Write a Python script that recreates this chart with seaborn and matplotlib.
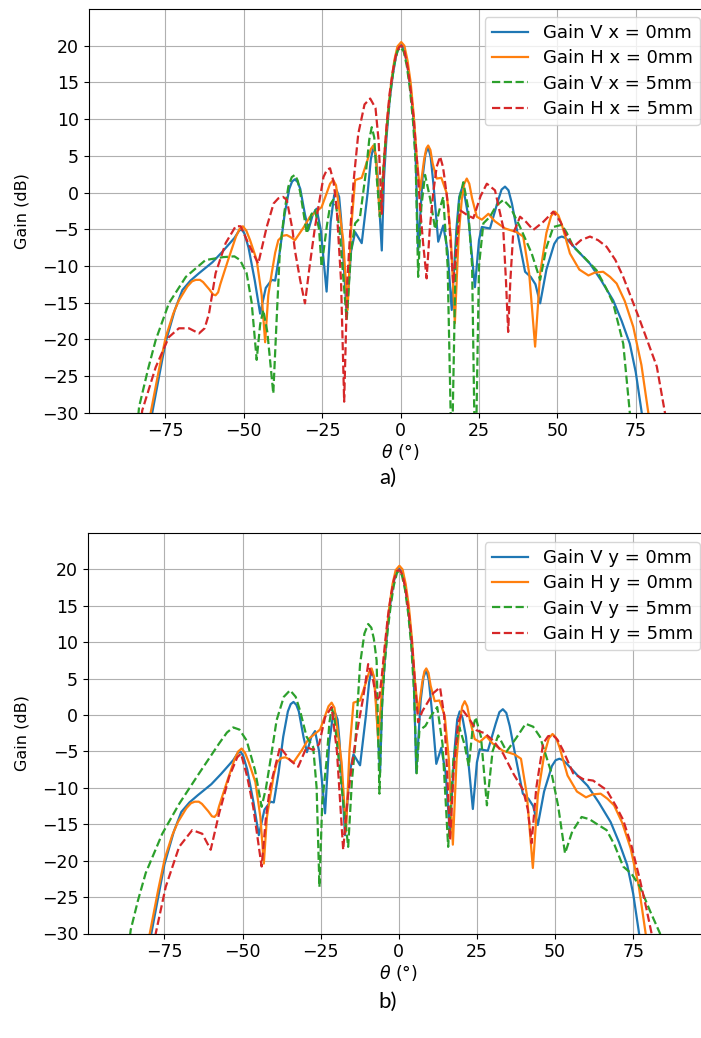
import numpy as np
import pandas as pd
import seaborn as sns
import matplotlib
matplotlib.use("Agg")
import matplotlib.pyplot as plt

# (theta in deg, gain in dB)
# the 0mm curves are the same in both panels
gain_v_0mm = [(-80.5, -32), (-79.2, -30), (-77, -25), (-75, -20.5), (-72, -16), (-69.6, -13.3),
              (-67, -12), (-64.3, -11.0), (-60, -9.5), (-56.9, -8.1), (-53, -6.2), (-51.5, -5.2),
              (-50.7, -5.0), (-49.8, -5.6), (-48.5, -7.5), (-46.5, -12), (-44.8, -16.5), (-43, -13),
              (-41.1, -11.9), (-40, -12), (-38.5, -8), (-37, -3), (-35.5, 0.5), (-34.6, 1.5),
              (-33.7, 1.8), (-32.8, 1.4), (-32, 0.5), (-30.5, -3), (-29.4, -5.1), (-28, -3),
              (-26.8, -2.2), (-25.5, -5), (-23.6, -13.5), (-22.3, -4), (-21.2, -0.4), (-20.4, 0.3),
              (-19.6, -0.6), (-19, -3.5), (-17.2, -16.5), (-15.8, -8), (-14.5, -5.4), (-12.4, -6.9),
              (-10.5, 0), (-9.5, 4.5), (-8.7, 6.2), (-7.9, 5), (-7.3, 2), (-6.0, -7.9), (-5.3, 2),
              (-4.5, 7.5), (-3.5, 12.5), (-2.5, 16), (-1.5, 18.5), (-0.5, 19.9), (0.2, 20.1),
              (1, 19.6), (2, 17.8), (3, 14.8), (4, 10.5), (4.8, 5), (5.6, -7.9), (7, 2), (7.9, 5.2),
              (8.8, 6.2), (9.6, 4.8), (10.5, 1), (12, -6.7), (13.6, -4.5), (15, -8), (16.3, -16.0),
              (17.8, -5), (18.7, -0.6), (19.5, 0.5), (20.4, -0.4), (21.5, -3), (23.7, -12.9),
              (25, -6.5), (25.9, -4.7), (28.5, -4.9), (31, -1.2), (32.2, 0.4), (33.3, 0.8),
              (34.4, 0.3), (35.5, -1.5), (37.5, -6), (39.7, -10.8), (41.5, -11.5), (43, -12.5),
              (44.5, -15.1), (46.5, -10.5), (49, -7), (50.2, -6.2), (51.4, -6.0), (52.6, -6.2),
              (54, -6.8), (57, -8.2), (60.4, -9.7), (64, -12), (67.8, -14.7), (70.5, -17.5),
              (73.1, -20.6), (75, -24.5), (76.9, -30), (77.5, -32)]

gain_h_0mm = [(-80.5, -32), (-79.7, -30), (-77, -24), (-74.9, -19.7), (-72.5, -16.5), (-70.7, -14.7),
              (-68, -12.8), (-66.5, -12.1), (-65.3, -11.9), (-64, -11.9), (-63, -12.2), (-61, -13.2),
              (-59.8, -13.9), (-59, -14.0), (-58.2, -13.6), (-57.5, -12.5), (-56, -10.5), (-54.7, -8.8),
              (-52.5, -6.0), (-51.4, -5.0), (-50.3, -4.6), (-49.2, -5.2), (-48, -6.5), (-45.9, -9.2),
              (-44.3, -14), (-43.2, -20.4), (-42.2, -14), (-41.1, -11.0), (-40, -8.2), (-39, -6.5),
              (-37.6, -5.9), (-36.3, -5.8), (-35, -6.1), (-33.7, -6.5), (-31, -4.8), (-28.9, -3.3),
              (-25.2, -2.0), (-23.5, 0), (-22.5, 1.2), (-21.5, 1.7), (-20.6, 1.0), (-19.8, -1.5),
              (-18.3, -6.5), (-16.9, -16), (-15.8, -5), (-14.5, 1.7), (-12.4, 2.0), (-10.5, 4.5),
              (-9.5, 5.9), (-8.7, 6.4), (-7.9, 5.2), (-7.5, 2.5), (-6.6, -3.3), (-5.8, 1), (-5, 6),
              (-4, 11), (-3, 15), (-2, 18), (-1, 19.9), (0.2, 20.5), (1.2, 20), (2.2, 18), (3.2, 15),
              (4.2, 10.5), (5.2, 4.5), (6.2, 0.3), (7.5, 4.5), (8.2, 6.0), (8.8, 6.4), (9.5, 5.8),
              (10.2, 4), (11.5, 1.9), (13, 2.0), (14.7, -0.1), (16, -6), (17.3, -17.8), (18.5, -6),
              (19.5, -1), (20.3, 1.2), (21.1, 1.9), (21.9, 1.2), (22.8, -0.8), (24.3, -3.3),
              (25.9, -3.7), (28, -2.9), (30, -3.9), (33.3, -4.9), (37, -5.4), (39.1, -6.0),
              (41, -11), (42.9, -21.0), (44.5, -11), (46.5, -5.5), (48, -3.2), (49.2, -2.6),
              (50.3, -3.1), (51.5, -4.5), (54, -8.3), (57, -10.5), (59.9, -11.3), (62, -10.9),
              (64.6, -10.8), (66.8, -11.5), (68.9, -12.4), (71.5, -14.8), (74.2, -18.3),
              (76.8, -23.5), (79, -30), (79.5, -32)]

gain_v_x5mm = [(-84, -32), (-83.4, -29.2), (-80.5, -24), (-78.1, -20.1), (-73.9, -15.1), (-68.5, -11.5),
               (-62.2, -9.2), (-56.5, -8.8), (-53, -8.7), (-51.2, -9.2), (-49.1, -11.0), (-47.5, -15),
               (-45.9, -22.8), (-44.8, -18), (-43.8, -16.0), (-42.5, -19), (-40.6, -27.4), (-39.5, -17),
               (-38.5, -7.9), (-37, -2.5), (-35.8, 0.8), (-34.7, 2.1), (-33.7, 2.4), (-32.8, 1.6),
               (-32, 0), (-29.9, -5.6), (-28.5, -3), (-27.3, -2.4), (-26, -5), (-25.2, -10.1),
               (-23.5, -4.5), (-22.4, -1.6), (-21.5, -1.0), (-20.6, -1.8), (-19.5, -5), (-17.2, -17.4),
               (-15.8, -8), (-14.5, -4.2), (-13, -3.5), (-11, 3), (-10, 7.2), (-9.2, 8.9), (-8.4, 7.5),
               (-7.8, 3), (-6.6, -3.3), (-5.8, 1.5), (-5, 6), (-4, 10.5), (-3, 14.5), (-2, 17.5),
               (-1, 19.3), (0, 19.8), (1, 19.2), (2, 17.2), (3, 14), (4, 9.5), (4.8, 4), (5.6, -11.5),
               (6.6, -2), (7.8, 2.4), (9.5, -1), (11, -5), (12.3, -2.5), (13.6, -0.6), (15, -10),
               (16.1, -33), (16.5, -33), (17.6, -8), (18.7, -1), (20, 1.4), (21.5, -2), (22.8, -10),
               (23.6, -33), (24.1, -33), (25, -10), (26.4, -4.2), (28.5, -3.3), (30.5, -1.8),
               (32.8, -1.0), (35, -2), (38.1, -4.7), (41.8, -8.3), (44.5, -11.9), (46.5, -7.5),
               (48.7, -4.7), (51.4, -4.4), (53, -5.5), (55.1, -7.4), (58.5, -8.8), (62.5, -10.6),
               (65.5, -13), (67.8, -15.1), (71, -20.6), (73.1, -30), (73.5, -32)]

gain_h_x5mm = [(-83, -32), (-82.4, -29.7), (-78.1, -23.8), (-73.9, -19.7), (-70.7, -18.5), (-67.5, -18.5),
               (-64.3, -19.2), (-62.5, -18.5), (-61.1, -16.5), (-59, -11.0), (-55.8, -6.9), (-52.6, -4.6),
               (-51, -4.6), (-48.5, -7), (-45.4, -9.7), (-42.7, -4.7), (-40.5, -1.5), (-39, -0.8),
               (-37.5, -0.6), (-36.3, -1.0), (-34.5, -5), (-33.7, -7.9), (-32, -12), (-30.5, -15.1),
               (-29, -10), (-27.3, -4.7), (-24.6, 2.1), (-23.5, 3.1), (-22.5, 3.3), (-21.4, 1.5),
               (-20.4, -2.0), (-19, -12), (-18.0, -28.5), (-17, -12), (-16.1, -5.6), (-15, 1.5),
               (-13.5, 8), (-11.5, 12), (-9.7, 12.8), (-8, 11.5), (-7, 7), (-6.0, -2.9), (-5.3, 4),
               (-4.5, 9), (-3.5, 13.5), (-2.5, 16.5), (-1.5, 18.7), (-0.5, 19.8), (0.3, 20),
               (1.2, 19.3), (2.2, 17.2), (3.2, 14), (4.2, 10), (5.2, 4.5), (6.2, -2), (7.2, -7),
               (8.3, -11.7), (9.3, -5), (10.4, -0.1), (11.5, 3.5), (12.6, 4.9), (13.5, 3.5),
               (14, 2), (15.2, -2.0), (16.8, -12.4), (18.9, -2.4), (21, -3), (23.2, -3.5),
               (25.5, -0.5), (27.5, 1.2), (30.1, 0.3), (32.7, -4.7), (33.6, -12), (34.3, -19.0),
               (35, -12), (35.9, -5.6), (38.1, -3.3), (40, -4), (42.3, -5.1), (45.5, -4),
               (48.7, -2.6), (51, -4), (53, -6.0), (55.1, -7.4), (57.5, -6.5), (60.4, -6.0),
               (63, -6.5), (65.7, -7.4), (68.5, -9.2), (71, -11.5), (76.3, -17.4), (81.7, -23.7),
               (84.3, -30), (84.8, -32)]

gain_v_y5mm = [(-86.5, -32), (-85.8, -29.5), (-83.5, -25.5), (-81, -21.7), (-75.7, -16.3), (-70.3, -12.2),
               (-63.9, -8.0), (-57.5, -3.9), (-55, -2.4), (-53, -1.7), (-51, -2.0), (-48.7, -3.5),
               (-46, -7.6), (-43.9, -12.6), (-42.5, -10), (-41, -6), (-39.1, -0.7), (-36.8, 2.5),
               (-34.8, 3.4), (-33, 2.5), (-31.6, 0.6), (-29.5, -3.0), (-27.4, -4.4), (-26.3, -10),
               (-25.4, -23.6), (-24.5, -12), (-23.1, -6.2), (-22.2, -1), (-21.5, 0.9), (-20.7, 0),
               (-20, -3), (-18.3, -9.9), (-16.2, -18.1), (-15, -9), (-14, -4.4), (-12.4, 7.0),
               (-11, 11.2), (-9.8, 12.5), (-8.8, 12), (-8, 10.5), (-7.1, 7.5), (-6.2, -10.8),
               (-5.4, 1), (-4.6, 6.5), (-3.6, 11.5), (-2.6, 15), (-1.6, 17.8), (-0.6, 19.5),
               (0, 19.8), (1, 19.2), (2, 17.2), (3, 14), (4, 9.5), (4.9, 3), (5.7, -8.0), (6.6, -2.1),
               (8.5, -1.5), (10.5, 0), (12.3, 1.1), (14, -4), (15.8, -18.1), (17.5, -6), (19.4, -1.7),
               (21, -4), (22.4, -7), (23.6, -2), (24.6, -0.3), (26.3, -3), (28.2, -12.4), (30, -5),
               (31.8, -2.8), (34.5, -5), (37.5, -3.2), (40.6, -1.2), (43, -1.6), (45.2, -3.0),
               (48.9, -8.0), (51, -12.5), (53.2, -19.0), (55.5, -16), (58.5, -14.0), (61, -14.3),
               (63.5, -15.0), (66.5, -15.8), (69, -17.8), (71.8, -20.8), (74.5, -21.8), (77.2, -23.6),
               (80.5, -27), (83.6, -30), (84, -32)]

gain_h_y5mm = [(-78.5, -32), (-77.8, -30), (-74.6, -23.6), (-70.3, -18.1), (-66.1, -15.8), (-62.9, -16.3),
               (-60.2, -18.5), (-57.5, -13.5), (-54.3, -8.5), (-51.7, -5.8), (-50.5, -5.3), (-48.5, -8.5),
               (-46.6, -12.6), (-43.9, -20.8), (-42.5, -14), (-41.2, -9.9), (-38, -4.4), (-34.8, -6.2),
               (-32.2, -7.1), (-29.5, -4.4), (-27.4, -4.8), (-25.5, -4), (-23.6, -0.3), (-21.5, 1.1),
               (-19.8, -5), (-17.8, -18.5), (-16.5, -12), (-15.1, -7.1), (-13.5, -2.6), (-11.4, 2.4),
               (-9.8, 7.0), (-8.3, 5), (-7.1, 2.0), (-6.2, 2.5), (-5.4, 5.5), (-4.5, 9.5),
               (-3.5, 13.5), (-2.5, 16.5), (-1.5, 18.7), (-0.5, 19.8), (0.3, 19.9), (1.2, 19.2),
               (2.2, 17.2), (3.2, 14), (4.2, 10), (5.2, 4.5), (6.2, -1.0), (7.5, 0.5), (8.9, 1.5),
               (11, 3), (13.2, 3.8), (14.5, 0), (15.5, -8), (16.4, -17.2), (17.5, -8), (19, -1),
               (20.6, 0.6), (22.5, -0.5), (24.9, -2.1), (27.5, -2.5), (30.2, -3.5), (33.4, -5.3),
               (36.6, -8.0), (39.8, -10.3), (41.3, -13), (42.5, -17.6), (44, -10), (46.2, -3.9),
               (47.8, -2.9), (49.4, -2.8), (50.8, -3.4), (52.5, -4.8), (55.8, -8.0), (59, -8.8),
               (62.2, -9.0), (66.5, -10.3), (69.5, -12.5), (71.8, -14.4), (74.5, -18), (77.2, -22.7),
               (79.2, -26.5), (80.9, -30), (81.3, -32)]

labels_a = ["Gain V x = 0mm", "Gain H x = 0mm", "Gain V x = 5mm", "Gain H x = 5mm"]
labels_b = ["Gain V y = 0mm", "Gain H y = 0mm", "Gain V y = 5mm", "Gain H y = 5mm"]
y_ticks = [-30, -25, -20, -15, -10, -5, 0, 5, 10, 15, 20]
x_ticks = [-75, -50, -25, 0, 25, 50, 75]

colors = ["#1f77b4", "#ff7f0e", "#2ca02c", "#d62728"]
styles = ["-", "-", "--", "--"]

W, H = 701, 1038
fig = plt.figure(figsize=(W / 100, H / 100), dpi=100)
ax1 = fig.add_axes([88.6 / W, 1 - 412.7 / H, (712.6 - 88.6) / W, (412.7 - 9) / H])
ax2 = fig.add_axes([87.9 / W, 1 - 933.5 / H, (709.7 - 87.9) / W, (933.5 - 533) / H])

panels = [
    (ax1, [gain_v_0mm, gain_h_0mm, gain_v_x5mm, gain_h_x5mm], labels_a, 17, "a)", 478),
    (ax2, [gain_v_0mm, gain_h_0mm, gain_v_y5mm, gain_h_y5mm], labels_b, 542, "b)", 1002),
]

for ax, curves, labels, leg_top, tag, tag_y in panels:
    for pts, lab, col, ls in zip(curves, labels, colors, styles):
        df = pd.DataFrame(pts, columns=["theta", "gain"])
        sns.lineplot(data=df, x="theta", y="gain", ax=ax, color=col, linestyle=ls,
                     linewidth=1.6, label=lab, estimator=None, sort=False)
    ax.set_xlim(-99.5, 99.5)
    ax.set_ylim(-30, 25)
    ax.set_xticks(x_ticks)
    ax.set_yticks(y_ticks)
    ax.grid(True, color="#b0b0b0", linewidth=0.8)
    ax.set_axisbelow(True)
    ax.tick_params(labelsize=12.5)
    ax.set_xlabel(r"$\theta$ (°)", fontsize=12.5, labelpad=1)
    ax.set_ylabel("Gain (dB)", fontsize=11.5, labelpad=9)
    ax.legend(loc="upper right", bbox_to_anchor=(700 / W, 1 - leg_top / H),
              bbox_transform=fig.transFigure, borderaxespad=0, fontsize=13,
              labelspacing=0.4)
    fig.text(388 / W, 1 - tag_y / H, tag, ha="center", va="center",
             fontsize=16, family=["Lato", "DejaVu Sans"])

fig.savefig("out.png", dpi=100)
